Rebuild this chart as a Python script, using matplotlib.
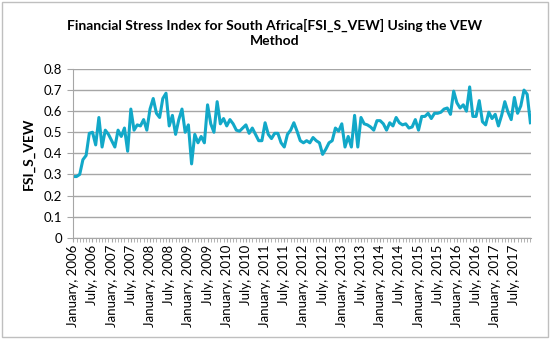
import numpy as np
import pandas as pd
import matplotlib
matplotlib.use("Agg")
import matplotlib.pyplot as plt
from matplotlib.patches import Rectangle

plt.rcParams['font.family'] = ['Lato', 'DejaVu Sans']

# Monthly FSI_S_VEW values, January 2006 .. December 2017
fsi_2006 = [0.29, 0.29, 0.30, 0.37, 0.39, 0.495, 0.50, 0.44, 0.57, 0.43, 0.51, 0.49]
fsi_2007 = [0.46, 0.43, 0.51, 0.48, 0.52, 0.41, 0.61, 0.51, 0.535, 0.53, 0.56, 0.51]
fsi_2008 = [0.61, 0.66, 0.59, 0.57, 0.66, 0.685, 0.53, 0.58, 0.49, 0.56, 0.61, 0.50]
fsi_2009 = [0.535, 0.35, 0.49, 0.45, 0.48, 0.45, 0.63, 0.54, 0.50, 0.645, 0.54, 0.565]
fsi_2010 = [0.53, 0.56, 0.54, 0.51, 0.505, 0.52, 0.535, 0.495, 0.52, 0.49, 0.46, 0.46]
fsi_2011 = [0.545, 0.49, 0.47, 0.495, 0.495, 0.45, 0.43, 0.49, 0.51, 0.545, 0.505, 0.46]
fsi_2012 = [0.45, 0.46, 0.45, 0.475, 0.46, 0.45, 0.395, 0.42, 0.45, 0.46, 0.52, 0.505]
fsi_2013 = [0.54, 0.43, 0.48, 0.43, 0.58, 0.43, 0.57, 0.54, 0.535, 0.525, 0.51, 0.555]
fsi_2014 = [0.555, 0.54, 0.51, 0.545, 0.53, 0.57, 0.545, 0.535, 0.54, 0.52, 0.525, 0.56]
fsi_2015 = [0.51, 0.575, 0.575, 0.59, 0.565, 0.59, 0.59, 0.595, 0.61, 0.615, 0.585, 0.695]
fsi_2016 = [0.64, 0.615, 0.63, 0.60, 0.715, 0.575, 0.575, 0.65, 0.55, 0.535, 0.595, 0.565]
fsi_2017 = [0.585, 0.53, 0.58, 0.645, 0.595, 0.56, 0.665, 0.59, 0.625, 0.70, 0.68, 0.545]

fsi = (fsi_2006 + fsi_2007 + fsi_2008 + fsi_2009 + fsi_2010 + fsi_2011 +
       fsi_2012 + fsi_2013 + fsi_2014 + fsi_2015 + fsi_2016 + fsi_2017)
months = pd.date_range("2006-01-01", periods=len(fsi), freq="MS")
month_labels = [m.strftime("%B, %Y") for m in months]
y_ticks = [0, 0.1, 0.2, 0.3, 0.4, 0.5, 0.6, 0.7, 0.8]
y_tick_labels = ["0", "0.1", "0.2", "0.3", "0.4", "0.5", "0.6", "0.7", "0.8"]

fig = plt.figure(figsize=(5.5, 3.39), dpi=100)
ax = fig.add_axes([0.1333, 0.2988, 0.8322, 0.4977])

x = np.arange(len(fsi))
ax.plot(x, fsi, color="#12a8c8", linewidth=2.2, solid_joinstyle="round")

ax.set_xlim(0, len(fsi) - 0.8)
ax.set_ylim(0, 0.8)
ax.set_yticks(y_ticks)
ax.set_yticklabels(y_tick_labels, fontsize=9.5)
ax.yaxis.grid(True, color="#a6a6a6", linewidth=1.0)
ax.set_axisbelow(True)

major = x[::6]
ax.set_xticks(major)
ax.set_xticklabels([month_labels[i] for i in major], rotation=90, fontsize=9.5)
ax.set_xticks(x, minor=True)
ax.tick_params(axis="x", which="both", length=3, color="#a6a6a6", pad=2)
ax.tick_params(axis="y", length=4, color="#a6a6a6", pad=4)

for side in ["top", "right"]:
    ax.spines[side].set_visible(False)
ax.spines["left"].set_color("#a6a6a6")
ax.spines["bottom"].set_color("#a6a6a6")

ax.set_ylabel("FSI_S_VEW", fontsize=10, fontweight="bold", labelpad=6)

fig.text(0.5, 0.945, "Financial Stress Index for South Africa[FSI_S_VEW] Using the VEW\nMethod",
         ha="center", va="top", fontsize=10, fontweight="bold", linespacing=1.3)

fig.patches.append(Rectangle((0.004, 0.006), 0.992, 0.988, transform=fig.transFigure,
                             fill=False, edgecolor="#bfbfbf", linewidth=1.0))

fig.savefig("out.png", dpi=100)
